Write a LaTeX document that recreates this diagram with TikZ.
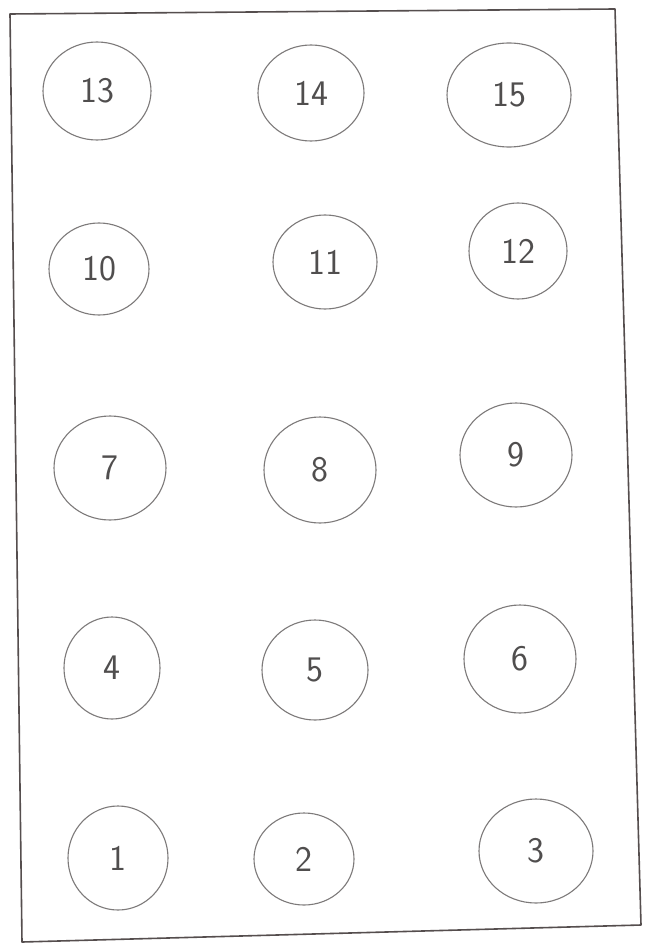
\documentclass[tikz,border=0pt]{standalone}
\usetikzlibrary{shapes.geometric}
\definecolor{pencil}{RGB}{125,122,122}
\definecolor{frame}{RGB}{85,78,78}
\definecolor{digit}{RGB}{80,78,78}
\tikzset{
  hole/.style={ellipse, draw=pencil, line width=1.1pt, inner sep=0pt,
    text=digit, font=\sffamily\fontsize{36}{36}\selectfont},
  border/.style={draw=frame, line width=1.6pt, line join=round}
}
\begin{document}
\begin{tikzpicture}[x=1pt,y=-1pt]
\useasboundingbox (0,0) rectangle (645,944);
\fill[white] (0,0) rectangle (645,944);
\draw[border] (10,14) -- (615,9) -- (641,925) -- (22,942) -- cycle;
\node[hole, minimum width=108pt, minimum height=98pt] (n13) at (97,91) {13};
\node[hole, minimum width=106pt, minimum height=96pt] (n14) at (311,93) {14};
\node[hole, minimum width=124pt, minimum height=104pt] (n15) at (509,95) {15};
\node[hole, minimum width=100pt, minimum height=92pt] (n10) at (99,269) {10};
\node[hole, minimum width=104pt, minimum height=94pt] (n11) at (325,262) {11};
\node[hole, minimum width=98pt, minimum height=96pt] (n12) at (518,251) {12};
\node[hole, minimum width=112pt, minimum height=104pt] (n7) at (110,468) {7};
\node[hole, minimum width=112pt, minimum height=106pt] (n8) at (320,470) {8};
\node[hole, minimum width=112pt, minimum height=104pt] (n9) at (516,455) {9};
\node[hole, minimum width=96pt, minimum height=102pt] (n4) at (112,668) {4};
\node[hole, minimum width=106pt, minimum height=100pt] (n5) at (315,670) {5};
\node[hole, minimum width=112pt, minimum height=108pt] (n6) at (520,659) {6};
\node[hole, minimum width=100pt, minimum height=104pt] (n1) at (118,858) {1};
\node[hole, minimum width=100pt, minimum height=92pt] (n2) at (304,859) {2};
\node[hole, minimum width=114pt, minimum height=104pt] (n3) at (536,851) {3};
\end{tikzpicture}
\end{document}
